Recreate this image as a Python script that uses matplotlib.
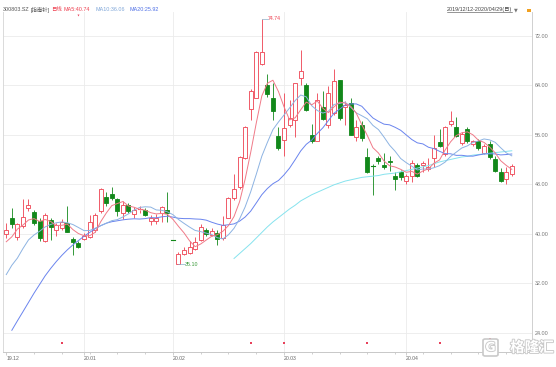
import numpy as np
import matplotlib
matplotlib.use("Agg")
import matplotlib.pyplot as plt
from matplotlib.patches import Rectangle, FancyBboxPatch
import matplotlib.patheffects as pe

W, H, DPI = 556, 367, 100

# ---------------- data ----------------
opens = [40.0, 42.6, 39.5, 41.2, 44.1, 43.5, 42.0, 38.8, 42.2, 40.6,
         41.0, 41.7, 39.1, 38.5, 39.1, 39.5, 40.6, 43.6, 45.9, 46.4,
         45.6, 43.3, 44.7, 43.2, 43.9, 43.9, 42.1, 42.1, 43.3, 43.9,
         38.97, 35.1, 36.7, 36.9, 37.5, 39.0, 40.6, 39.8, 40.1, 39.3,
         42.6, 45.7, 47.5, 52.2, 60.1, 62.0, 67.4, 64.0, 62.0, 55.8,
         55.2, 57.6, 58.4, 65.1, 64.0, 55.9, 55.0, 60.4, 57.6, 59.5,
         64.8, 60.4, 61.1, 55.6, 57.6, 52.4, 51.1, 52.3, 51.1, 51.8,
         49.3, 50.0, 48.5, 49.3, 51.1, 51.1, 50.5, 52.2, 54.8, 52.8,
         57.7, 57.3, 54.6, 56.9, 54.5, 54.9, 53.1, 54.5, 52.0, 50.0,
         48.9, 49.7]
highs = [41.7, 44.1, 41.7, 45.6, 45.6, 43.8, 42.6, 43.4, 42.6, 41.7,
         42.4, 44.5, 39.5, 38.9, 40.1, 43.1, 43.3, 47.4, 46.8, 47.6,
         45.7, 45.3, 45.0, 44.3, 44.5, 44.2, 43.0, 43.2, 44.4, 46.7,
         38.97, 37.0, 37.8, 38.9, 39.5, 41.6, 40.9, 40.9, 40.6, 42.9,
         45.9, 49.7, 52.5, 57.4, 63.3, 69.5, 74.74, 65.8, 64.3, 57.3,
         62.7, 61.6, 64.4, 69.7, 64.3, 57.8, 62.7, 63.1, 63.9, 66.6,
         64.9, 61.5, 61.9, 58.4, 58.2, 53.8, 51.2, 52.6, 53.1, 52.5,
         50.0, 50.3, 49.6, 51.9, 51.5, 51.7, 52.2, 56.0, 56.9, 57.4,
         59.9, 58.9, 56.4, 57.2, 55.1, 55.3, 54.5, 55.0, 52.5, 50.6,
         50.8, 51.2]
lows = [39.3, 40.9, 39.0, 40.9, 43.7, 41.4, 38.8, 38.6, 39.0, 39.7,
        40.6, 40.3, 36.6, 37.7, 39.0, 39.3, 40.3, 43.3, 44.4, 45.4,
        42.9, 42.3, 43.4, 42.6, 43.4, 42.8, 41.4, 41.6, 41.9, 41.9,
        38.97, 35.1, 36.6, 36.7, 37.3, 38.8, 39.7, 39.6, 38.2, 39.0,
        42.5, 45.4, 47.2, 52.0, 58.4, 61.9, 67.3, 62.1, 58.4, 53.5,
        52.5, 57.3, 55.7, 64.0, 59.8, 54.6, 54.9, 58.4, 57.1, 59.2,
        58.4, 57.6, 56.0, 54.9, 54.9, 49.8, 46.2, 51.3, 50.5, 50.2,
        47.1, 48.6, 48.1, 48.4, 49.1, 49.9, 50.2, 50.8, 54.0, 52.6,
        57.4, 55.7, 54.3, 54.6, 54.1, 53.6, 52.8, 52.1, 50.0, 48.3,
        48.0, 49.4]
closes = [40.6, 41.6, 41.5, 42.7, 44.7, 41.7, 39.3, 43.1, 41.1, 41.4,
          41.9, 40.3, 38.6, 37.9, 39.7, 41.9, 43.0, 47.2, 44.9, 45.7,
          43.6, 44.6, 43.6, 43.9, 44.0, 43.0, 42.5, 42.6, 44.3, 43.3,
          38.97, 36.8, 37.3, 37.9, 38.6, 41.1, 40.0, 40.4, 39.1, 41.4,
          45.7, 47.3, 52.4, 57.3, 63.0, 69.3, 69.3, 62.6, 59.8, 53.8,
          57.0, 58.7, 64.3, 66.3, 60.0, 54.9, 61.6, 58.5, 62.8, 64.7,
          58.7, 60.8, 56.0, 57.2, 55.4, 49.9, 51.0, 51.7, 50.7, 51.6,
          48.9, 49.1, 49.3, 51.5, 49.3, 51.5, 50.8, 53.9, 54.1, 57.3,
          58.2, 55.8, 56.1, 54.9, 54.9, 53.8, 54.1, 52.4, 50.2, 48.5,
          50.0, 50.9]

ma5 = [38.7, 39.5, 40.74, 41.4, 42.22, 42.44, 41.98, 42.30, 41.98, 41.32,
       41.36, 41.56, 40.66, 40.02, 39.68, 39.68, 40.22, 41.94, 43.34, 44.54,
       44.88, 45.20, 44.48, 44.28, 43.94, 43.82, 43.40, 43.20, 43.28, 43.14,
       42.33, 41.19, 40.13, 38.85, 37.91, 38.34, 38.98, 39.60, 39.84, 40.40,
       41.32, 42.78, 45.18, 48.82, 53.14, 57.86, 62.26, 64.30, 64.80, 62.96,
       60.50, 58.38, 58.72, 60.02, 61.26, 60.84, 61.42, 60.26, 59.56, 60.50,
       61.26, 61.10, 60.60, 59.48, 57.62, 55.86, 53.90, 53.04, 51.74, 50.98,
       50.78, 50.40, 49.92, 50.08, 49.62, 50.14, 50.48, 51.40, 51.92, 53.52,
       54.86, 55.86, 56.30, 56.46, 55.98, 55.10, 54.76, 54.02, 53.08, 51.80,
       51.04, 50.40]
ma10 = [33.4, 34.9, 36.06, 37.6, 39.0, 39.8, 40.4, 41.1, 41.5, 41.77,
        41.90, 41.77, 41.48, 41.00, 40.50, 40.52, 40.89, 41.30, 41.68, 42.11,
        42.28, 42.71, 43.21, 43.81, 44.24, 44.35, 44.30, 43.84, 43.78, 43.54,
        43.08, 42.30, 41.67, 41.07, 40.53, 40.34, 40.09, 39.87, 39.35, 39.16,
        39.83, 40.88, 42.39, 44.33, 46.77, 49.59, 52.52, 54.74, 56.81, 58.05,
        59.18, 60.32, 61.51, 62.41, 62.11, 60.67, 59.90, 59.49, 59.79, 60.88,
        61.05, 61.26, 60.43, 59.52, 59.06, 58.56, 57.50, 56.82, 55.61, 54.30,
        53.32, 52.15, 51.48, 50.91, 50.30, 50.46, 50.44, 50.66, 51.00, 51.57,
        52.50, 53.17, 53.85, 54.19, 54.75, 54.98, 55.31, 55.16, 54.77, 53.89,
        53.07, 52.58]
ma20 = [np.nan, 24.4, 25.92, 27.4, 28.9, 30.4, 31.8, 33.2, 34.4, 35.5,
        36.5, 37.4, 38.2, 38.9, 39.6, 40.2, 40.8, 41.3, 41.7, 41.94,
        42.09, 42.24, 42.35, 42.41, 42.37, 42.44, 42.60, 42.57, 42.73, 42.83,
        42.68, 42.50, 42.44, 42.44, 42.38, 42.34, 42.19, 41.85, 41.56, 41.35,
        41.45, 41.59, 42.03, 42.70, 43.65, 44.96, 46.30, 47.30, 48.08, 48.60,
        49.51, 50.60, 51.95, 53.37, 54.44, 55.13, 56.21, 57.12, 58.30, 59.47,
        60.12, 60.79, 60.97, 60.97, 60.59, 59.62, 58.70, 58.16, 57.70, 57.59,
        57.19, 56.71, 55.96, 55.22, 54.68, 54.51, 53.97, 53.74, 53.31, 52.94,
        52.91, 52.66, 52.67, 52.55, 52.53, 52.72, 52.88, 52.91, 52.89, 52.73,
        52.79, 52.88]
ma60_start = 41
ma60_vals = [36.0, 36.8, 37.6, 38.4, 39.3, 40.2, 41.1, 41.9, 42.6, 43.3,
             44.0, 44.6, 45.3, 45.8, 46.3, 46.7, 47.1, 47.5, 47.9, 48.2,
             48.5, 48.7, 48.9, 49.1, 49.2, 49.3, 49.4, 49.6, 49.7, 49.8,
             50.0, 50.2, 50.4, 50.6, 50.8, 51.0, 51.3, 51.6, 51.8, 52.0,
             52.2, 52.4, 52.5, 52.7, 52.8, 52.9, 53.0, 53.1, 53.2, 53.3,
             53.4]

month_idx = [0, 14, 30, 50, 72]
month_labels = ["19.12", "20.01", "20.02", "20.03", "20.04"]
ytick_vals = [24, 32, 40, 48, 56, 64, 72]
event_idx = [10, 44, 50, 65, 78, 91]
event_idx_hi = [87]
top_mark_idx = [13]

title_code = "300803.SZ"
title_name = "[指南针]"
title_period = "日线"
ma_labels = ["MA5:40.74", "MA10:36.06", "MA20:25.92"]
range_label = "2019/12/12-2020/04/29(日)"

# ---------------- style ----------------
FONT = ['Liberation Sans', 'Noto Sans CJK SC', 'DejaVu Sans']
plt.rcParams['font.family'] = FONT
RED = '#EE4050'
GREEN = '#12881A'
C_MA5 = '#F07A88'
C_MA10 = '#8DB3E2'
C_MA20 = '#6A84EE'
C_MA60 = '#86E3EE'
GRID = '#EBEBEB'

n = len(closes)
xs = np.arange(n)

fig = plt.figure(figsize=(W / DPI, H / DPI), dpi=DPI)
fig.patch.set_facecolor('white')
ax = fig.add_axes([3 / W, 15 / H, 529 / W, 340 / H])
ax.set_xlim(-0.59, 94.64)
ax.set_ylim(20.89, 75.82)
ax.set_facecolor('white')

# spines
ax.spines['top'].set_visible(False)
ax.spines['left'].set_color('#DADADA')
ax.spines['right'].set_color('#D0D0D0')
ax.spines['bottom'].set_color('#C8C8C8')
for s in ax.spines.values():
    s.set_linewidth(0.7)

# y axis on right
ax.yaxis.tick_right()
ax.set_yticks(ytick_vals)
ax.set_yticklabels([f"{v:.2f}" for v in ytick_vals], fontsize=3.9, color='#777777')
ax.tick_params(axis='y', length=0, pad=2.2)
for v in ytick_vals:
    ax.axhline(v, color=GRID, lw=0.6, zorder=0)
for i in month_idx[1:]:
    ax.axvline(i, color=GRID, lw=0.6, zorder=0)

# x axis
ax.set_xticks(month_idx)
ax.set_xticklabels(month_labels, fontsize=3.7, color='#666666')
for lbl in ax.get_xticklabels():
    lbl.set_horizontalalignment('left')
ax.set_xticks(np.arange(0, n, 5), minor=True)
ax.tick_params(axis='x', which='major', length=2, width=0.5, color='#BBBBBB', pad=0.6)
ax.tick_params(axis='x', which='minor', length=1.2, width=0.5, color='#BBBBBB')

# ---------------- candles ----------------
bw = 0.72
for i in range(n):
    o, h, l, c = opens[i], highs[i], lows[i], closes[i]
    if c > o:
        up = True
    elif c < o:
        up = False
    else:
        up = i > 0 and c >= closes[i - 1]
    col = RED if up else GREEN
    lo_b, hi_b = min(o, c), max(o, c)
    if up:
        if h > hi_b:
            ax.plot([i, i], [hi_b, h], color=col, lw=0.6, zorder=2, solid_capstyle='butt')
        if l < lo_b:
            ax.plot([i, i], [l, lo_b], color=col, lw=0.6, zorder=2, solid_capstyle='butt')
    else:
        ax.plot([i, i], [l, h], color=col, lw=0.6, zorder=2, solid_capstyle='butt')
    if hi_b - lo_b < 0.12:
        ax.plot([i - bw / 2, i + bw / 2], [c, c], color=col, lw=0.8, zorder=3)
    else:
        ax.add_patch(Rectangle((i - bw / 2, lo_b), bw, hi_b - lo_b,
                               facecolor='white' if up else col,
                               edgecolor=col, lw=0.6, zorder=3))

# ---------------- moving averages ----------------
ma60 = np.full(n, np.nan)
ma60[ma60_start:ma60_start + len(ma60_vals)] = ma60_vals
ax.plot(xs, ma60, color=C_MA60, lw=0.7, zorder=4)
ax.plot(xs, ma20, color=C_MA20, lw=0.7, zorder=4)
ax.plot(xs, ma10, color=C_MA10, lw=0.7, zorder=4)
ax.plot(xs, ma5, color=C_MA5, lw=0.7, zorder=5)

# max / min annotations
imax = int(np.argmax(highs))
imin = int(np.argmin(lows))
ax.plot([imax, imax + 1.1], [highs[imax], highs[imax]], color='#8AAFC8', lw=0.5, zorder=5)
ax.text(imax + 1.15, highs[imax], f"{highs[imax]:.2f}", fontsize=3.8, color=RED,
        va='center', ha='left', zorder=6)
ax.plot([imin, imin + 1.1], [lows[imin], lows[imin]], color='#8AAFC8', lw=0.5, zorder=5)
ax.text(imin + 1.15, lows[imin], f"{lows[imin]:.2f}", fontsize=3.8, color='#3A9A3A',
        va='center', ha='left', zorder=6)

# event markers
tr = ax.get_xaxis_transform()
ax.scatter(event_idx, [0.026] * len(event_idx), transform=tr, marker='s', s=1.6,
           color='#E8405A', lw=0, zorder=6, clip_on=False)
ax.scatter(event_idx_hi, [0.038] * len(event_idx_hi), transform=tr, marker='s', s=1.6,
           color='#E8405A', lw=0, zorder=6, clip_on=False)
ax.scatter(top_mark_idx, [0.992] * len(top_mark_idx), transform=tr, marker='v', s=2.0,
           color='#E8405A', lw=0, zorder=6, clip_on=False)

# ---------------- header ----------------
def fx(px):
    return px / W


def fy(py):
    return 1 - py / H


ty = fy(9.5)
HF = 3.9
fig.text(fx(3), ty, title_code, fontsize=HF, color='#555555', va='center', ha='left')
fig.text(fx(30.5), ty, title_name, fontsize=HF, color='#555555', va='center', ha='left')
fig.text(fx(51.5), ty, title_period, fontsize=HF, color=RED, va='center', ha='left')
fig.text(fx(63), ty, ma_labels[0], fontsize=HF, color=RED, va='center', ha='left')
fig.text(fx(95), ty, ma_labels[1], fontsize=HF, color='#7FA6D8', va='center', ha='left')
fig.text(fx(130), ty, ma_labels[2], fontsize=HF, color='#4E6FE6', va='center', ha='left')

rt = fig.text(fx(447), ty, range_label, fontsize=3.9, color='#444444', va='center', ha='left')
fig.canvas.draw()
bb = rt.get_window_extent()
fig.add_artist(plt.Line2D([bb.x0 / W, bb.x1 / W], [fy(12.4), fy(12.4)],
                          transform=fig.transFigure, color='#444444', lw=0.4))
fig.text(bb.x1 / W + 1.5 / W, ty, "▼", fontsize=3.5, color='#777777', va='center',
         ha='left', family='DejaVu Sans')
fig.add_artist(Rectangle((fx(527), fy(12)), 4 / W, 3.5 / H, transform=fig.transFigure,
                         facecolor='#F0A020', edgecolor='none'))

# ---------------- watermark ----------------
wm_style = [pe.withStroke(linewidth=1.3, foreground='#C9C9C9')]
fig.add_artist(FancyBboxPatch((fx(483), fy(356)), 15 / W, 17 / H,
                              boxstyle="round,pad=0,rounding_size=0.004",
                              transform=fig.transFigure, facecolor='white',
                              edgecolor='#C9C9C9', lw=1.2))
fig.text(fx(490.5), fy(347.5), "G", fontsize=9, color='white', va='center', ha='center',
         family='DejaVu Sans', weight='bold', path_effects=wm_style)
fig.text(fx(532), fy(347), "格隆汇", fontsize=10.5, color='white', va='center', ha='center',
         family=['Noto Sans CJK SC'], weight='bold', path_effects=wm_style)

fig.savefig("out.png", dpi=DPI, facecolor='white')
